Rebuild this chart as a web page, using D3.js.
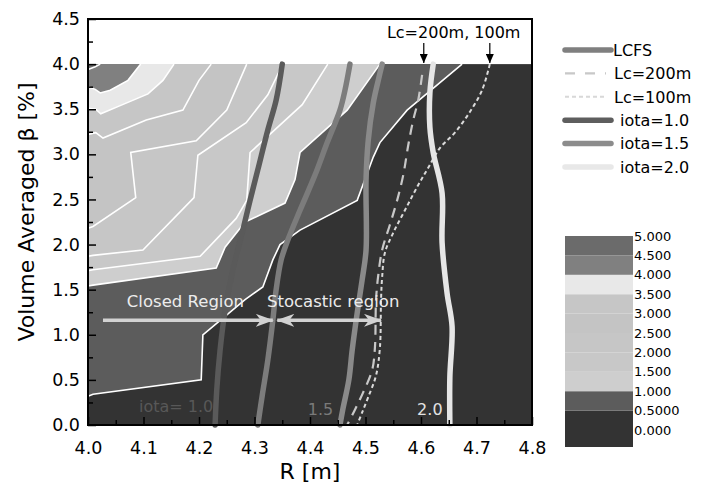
<!DOCTYPE html>
<html lang="en">
<head>
<meta charset="utf-8">
<title>Volume averaged beta vs R</title>
<script src="https://cdn.jsdelivr.net/npm/d3@7"></script>
<style>
  body { margin: 0; background: #fff; }
  text { font-family: "DejaVu Sans", sans-serif; }
</style>
</head>
<body>
<svg id="chart" width="704" height="494"></svg>
<script>
// ---- data: [R (m), beta (%)] ----
// contour levels, each line runs from the top edge (beta=4) to the left edge (R=4.0)
var levels = [0.5, 1.0, 1.5, 2.0, 2.5, 3.0, 3.5, 4.0, 4.5];
var c05 = [[4.674,4.0],[4.575,3.49],[4.526,3.13],[4.514,2.97],[4.485,2.49],[4.382,2.16],[4.346,2.0],[4.333,1.83],[4.315,1.53],[4.283,1.39],[4.207,1.0],[4.204,0.50],[4.009,0.34],[4.0,0.32]];
var c10 = [[4.526,4.0],[4.467,3.49],[4.382,3.02],[4.373,2.72],[4.355,2.46],[4.283,2.25],[4.247,1.97],[4.231,1.74],[4.009,1.55],[4.0,1.54]];
var c15 = [[4.432,4.0],[4.386,3.55],[4.292,3.02],[4.286,2.49],[4.267,2.29],[4.202,1.87],[4.009,1.72],[4.0,1.71]];
var c20 = [[4.351,4.0],[4.324,3.66],[4.285,3.35],[4.198,2.99],[4.191,2.52],[4.099,1.94],[4.009,1.88],[4.0,1.87]];
var c25 = [[4.286,4.0],[4.250,3.49],[4.195,3.15],[4.077,3.02],[4.086,2.52],[4.009,2.20],[4.0,2.18]];
var c30 = [[4.222,4.0],[4.200,3.82],[4.171,3.49],[4.105,3.38],[4.027,3.18],[4.014,3.24],[4.0,3.22]];
var c35 = [[4.155,4.0],[4.135,3.82],[4.108,3.67],[4.058,3.54],[4.023,3.45],[4.014,3.50],[4.0,3.51]];
var c40 = [[4.095,4.0],[4.072,3.82],[4.040,3.71],[4.022,3.68],[4.013,3.72],[4.0,3.75]];
var c45 = [[4.022,4.0],[4.013,3.97],[4.0,3.94]];
var contourLines = [c05, c10, c15, c20, c25, c30, c35, c40, c45];

// iota surfaces, LCFS and connection length lines
var lcfs = [[4.472,4.0],[4.463,3.71],[4.454,3.49],[4.431,3.13],[4.409,2.77],[4.382,2.38],[4.360,2.05],[4.348,1.83],[4.339,1.50],[4.333,1.16],[4.324,0.72],[4.314,0.33],[4.306,0]];
var iota10 = [[4.350,4.0],[4.339,3.60],[4.324,3.27],[4.306,2.83],[4.292,2.49],[4.279,2.16],[4.261,1.72],[4.247,1.27],[4.238,0.83],[4.232,0.39],[4.229,0]];
var iota15 = [[4.530,4.0],[4.523,3.82],[4.514,3.57],[4.505,3.16],[4.501,2.72],[4.501,1.94],[4.494,1.61],[4.485,1.24],[4.476,0.83],[4.470,0.50],[4.459,0.17],[4.454,0]];
var iota20 = [[4.622,4.0],[4.616,3.68],[4.616,3.30],[4.622,3.02],[4.638,2.57],[4.638,2.02],[4.647,1.46],[4.656,1.09],[4.652,0.53],[4.652,0]];
var lc200 = [[4.602,3.88],[4.595,3.60],[4.586,3.38],[4.577,3.10],[4.568,2.77],[4.557,2.49],[4.544,2.22],[4.530,1.94],[4.523,1.66],[4.519,1.39],[4.517,0.86],[4.512,0.61],[4.495,0.35],[4.481,0.17],[4.467,0]];
var lc100 = [[4.724,4.0],[4.710,3.71],[4.688,3.47],[4.661,3.24],[4.634,3.07],[4.613,2.85],[4.595,2.66],[4.571,2.38],[4.550,2.13],[4.535,1.91],[4.530,1.64],[4.528,1.39],[4.526,0.86],[4.519,0.55],[4.505,0.31],[4.494,0.14],[4.485,0]];

// colour bar
var barLevels = [0, 0.5, 1.0, 1.5, 2.0, 2.5, 3.0, 3.5, 4.0, 4.5, 5.0];
var barLabels = ["0.000","0.5000","1.000","1.500","2.000","2.500","3.000","3.500","4.000","4.500","5.000"];
var xTicks = [4.0, 4.1, 4.2, 4.3, 4.4, 4.5, 4.6, 4.7, 4.8];
var yTicks = [0.0, 0.5, 1.0, 1.5, 2.0, 2.5, 3.0, 3.5, 4.0, 4.5];

// ---- styles ----
var bandColors = ["#333333","#5c5c5c","#cecece","#c8c8c8","#c6c6c6","#c4c4c4","#c6c6c6","#e8e8e8","#808080","#6b6b6b"];

var svg = d3.select("#chart");
var x = d3.scaleLinear().domain([4.0, 4.8]).range([88, 532]);
var y = d3.scaleLinear().domain([0, 4.5]).range([425, 19]);

var line = d3.line().x(function(d){ return x(d[0]); }).y(function(d){ return y(d[1]); });
var smooth = d3.line().x(function(d){ return x(d[0]); }).y(function(d){ return y(d[1]); }).curve(d3.curveCatmullRom);

// markers
var defs = svg.append("defs");
defs.append("marker").attr("id","ahLight")
  .attr("viewBox","0 0 18 13").attr("refX",17).attr("refY",6.5)
  .attr("markerWidth",18).attr("markerHeight",13).attr("markerUnits","userSpaceOnUse")
  .attr("orient","auto-start-reverse")
  .append("path").attr("d","M0,0 L18,6.5 L0,13 L5,6.5 Z").attr("fill","#d2d2d2");
defs.append("marker").attr("id","ahBlack")
  .attr("viewBox","0 0 8 9").attr("refX",4).attr("refY",9)
  .attr("markerWidth",8).attr("markerHeight",9).attr("markerUnits","userSpaceOnUse")
  .attr("orient","0")
  .append("path").attr("d","M0,0 L8,0 L4,9 Z").attr("fill","#000");

// ---- filled contours ----
var plot = svg.append("g");
plot.append("rect")
  .attr("x", x(4.0)).attr("y", y(4.0))
  .attr("width", x(4.8) - x(4.0)).attr("height", y(0) - y(4.0))
  .attr("fill", bandColors[0]);

contourLines.forEach(function(pts, i){
  plot.append("path")
    .attr("d", line(pts.concat([[4.0, 4.0]])) + "Z")
    .attr("fill", bandColors[i + 1]);
});
contourLines.forEach(function(pts){
  plot.append("path")
    .attr("d", line(pts))
    .attr("fill","none").attr("stroke","#fff").attr("stroke-width",1.6);
});

// Lc lines (dashed)
plot.append("path").attr("d", smooth(lc200)).attr("fill","none")
  .attr("stroke","#c8c8c8").attr("stroke-width",2.2).attr("stroke-dasharray","10,7");
plot.append("path").attr("d", smooth(lc100)).attr("fill","none")
  .attr("stroke","#dadada").attr("stroke-width",2).attr("stroke-dasharray","4,3");

// iota / LCFS thick lines
[[iota10,"#5a5a5a"],[lcfs,"#7c7c7c"],[iota15,"#8a8a8a"],[iota20,"#e6e6e6"]].forEach(function(s){
  plot.append("path").attr("d", smooth(s[0])).attr("fill","none")
    .attr("stroke", s[1]).attr("stroke-width",5.5).attr("stroke-linecap","round");
});

// ---- annotations ----
plot.append("text").attr("x", x(4.07)).attr("y", y(1.31))
  .attr("font-size",16.5).attr("fill","#ececec").text("Closed Region");
plot.append("text").attr("x", x(4.3225)).attr("y", y(1.31))
  .attr("font-size",16.5).attr("fill","#ececec").text("Stocastic region");
plot.append("line")
  .attr("x1", x(4.027)).attr("y1", y(1.16)).attr("x2", x(4.333)).attr("y2", y(1.16))
  .attr("stroke","#d2d2d2").attr("stroke-width",3.5).attr("marker-end","url(#ahLight)");
plot.append("line")
  .attr("x1", x(4.341)).attr("y1", y(1.16)).attr("x2", x(4.528)).attr("y2", y(1.16))
  .attr("stroke","#d2d2d2").attr("stroke-width",3.5)
  .attr("marker-start","url(#ahLight)").attr("marker-end","url(#ahLight)");

plot.append("text").attr("x", x(4.092)).attr("y", y(0.14))
  .attr("font-size",16).attr("fill","#585858").text("iota= 1.0");
plot.append("text").attr("x", x(4.396)).attr("y", y(0.11))
  .attr("font-size",16).attr("fill","#7a7a7a").text("1.5");
plot.append("text").attr("x", x(4.593)).attr("y", y(0.11))
  .attr("font-size",16).attr("fill","#e2e2e2").text("2.0");

svg.append("text").attr("x", (x(4.605) + x(4.72)) / 2 - 2).attr("y", 38)
  .attr("text-anchor","middle").attr("font-size",16).attr("fill","#000").text("Lc=200m, 100m");
[4.605, 4.724].forEach(function(r){
  svg.append("line").attr("x1", x(r)).attr("y1", 43).attr("x2", x(r)).attr("y2", y(4.0) - 1)
    .attr("stroke","#000").attr("stroke-width",1.2).attr("marker-end","url(#ahBlack)");
});

// ---- axes ----
var xMinor = xTicks.slice(0, -1).map(function(t){ return t + 0.05; });
var yMinor = yTicks.slice(0, -1).map(function(t){ return t + 0.25; });

var gx = svg.append("g").attr("transform","translate(0," + y(0) + ")")
  .call(d3.axisBottom(x).tickValues(xTicks).tickFormat(d3.format(".1f"))
    .tickSizeInner(-8).tickSizeOuter(0).tickPadding(17));
svg.append("g").attr("transform","translate(0," + y(0) + ")")
  .call(d3.axisBottom(x).tickValues(xMinor).tickFormat("").tickSizeInner(-5).tickSizeOuter(0));
var gy = svg.append("g").attr("transform","translate(" + x(4.0) + ",0)")
  .call(d3.axisLeft(y).tickValues(yTicks).tickFormat(d3.format(".1f"))
    .tickSizeInner(-8).tickSizeOuter(0).tickPadding(8));
svg.append("g").attr("transform","translate(" + x(4.0) + ",0)")
  .call(d3.axisLeft(y).tickValues(yMinor).tickFormat("").tickSizeInner(-5).tickSizeOuter(0));

svg.selectAll(".domain").remove();
svg.selectAll(".tick line").attr("stroke","#000").attr("stroke-width",1.5);
gx.selectAll("text").attr("font-size",17.5).attr("font-family","DejaVu Sans").attr("fill","#000");
gy.selectAll("text").attr("font-size",17.5).attr("font-family","DejaVu Sans").attr("fill","#000");

svg.append("rect").attr("x", x(4.0)).attr("y", y(4.5))
  .attr("width", x(4.8) - x(4.0)).attr("height", y(0) - y(4.5))
  .attr("fill","none").attr("stroke","#000").attr("stroke-width",2);

svg.append("text").attr("x", 310).attr("y", 479).attr("text-anchor","middle")
  .attr("font-size",22).text("R [m]");
svg.append("text").attr("transform","translate(34,212) rotate(-90)").attr("text-anchor","middle")
  .attr("font-size",22).text("Volume Averaged \u03b2 [%]");

// ---- legend ----
var legendItems = [
  {name:"LCFS", color:"#7f7f7f", width:5.5, dash:null, tx:613},
  {name:"Lc=200m", color:"#c8c8c8", width:2.2, dash:"10,10", tx:614},
  {name:"Lc=100m", color:"#d8d8d8", width:2, dash:"4,3", tx:614},
  {name:"iota=1.0", color:"#5e5e5e", width:5.5, dash:null, tx:620},
  {name:"iota=1.5", color:"#8c8c8c", width:5.5, dash:null, tx:620},
  {name:"iota=2.0", color:"#e8e8e8", width:5.5, dash:null, tx:620}
];
var lg = svg.append("g");
legendItems.forEach(function(it, i){
  var yy = 50 + i * 23.4;
  var l = lg.append("line").attr("x1", 565).attr("x2", it.dash ? 606 : 611).attr("y1", yy).attr("y2", yy)
    .attr("stroke", it.color).attr("stroke-width", it.width)
    .attr("stroke-linecap", it.dash ? "butt" : "round");
  if (it.dash) l.attr("stroke-dasharray", it.dash);
  lg.append("text").attr("x", it.tx).attr("y", yy).attr("dy","0.36em")
    .attr("font-size",16).attr("fill","#000").text(it.name);
});

// ---- colour bar ----
var cb = d3.scaleLinear().domain([0, 5]).range([430, 236]);
var cbg = svg.append("g");
barLevels.slice(0, -1).forEach(function(lv, i){
  var top = cb(barLevels[i + 1]);
  var bottom = i === 0 ? cb(0) + 17 : cb(lv);
  cbg.append("rect").attr("x", 565).attr("y", top).attr("width", 68).attr("height", bottom - top)
    .attr("fill", bandColors[i]);
});
barLevels.forEach(function(lv, i){
  cbg.append("text").attr("x", 634).attr("y", cb(lv)).attr("dy","0.36em")
    .attr("font-size",13).attr("fill","#000").text(barLabels[i]);
});
</script>
</body>
</html>
